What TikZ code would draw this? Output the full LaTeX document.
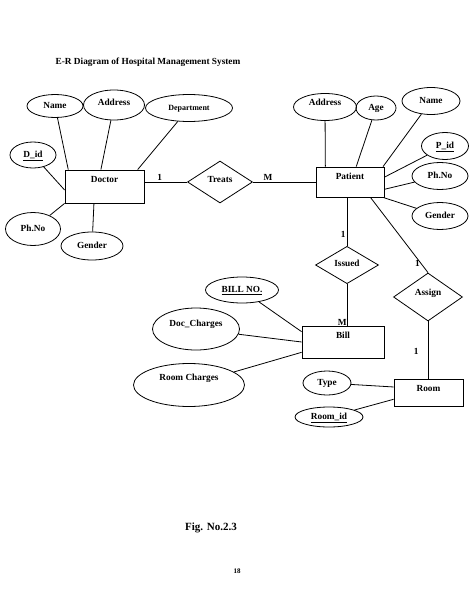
\documentclass[tikz,border=0pt]{standalone}
\usepackage{fontspec}
\setmainfont{Liberation Serif}
\usetikzlibrary{shapes.geometric}
\begin{document}
\begin{tikzpicture}[x=1pt,y=-1pt,line width=0.8pt,
    font=\fontsize{9.3}{10}\selectfont\bfseries,
    attr/.style 2 args={ellipse, draw, inner sep=0pt, minimum width=#1, minimum height=#2, text height=7pt, text depth=2pt},
    entity/.style 2 args={rectangle, draw, inner xsep=0pt, inner ysep=5pt, minimum width=#1, text height=7pt, text depth=#2},
    rel/.style 2 args={diamond, draw, inner sep=0pt, minimum width=#1, minimum height=#2, text height=7pt, text depth=2pt},
    card/.style={inner sep=1pt}]
    \useasboundingbox (0,0) rectangle (474,613);
    \node[font=\fontsize{9.3}{11}\selectfont\bfseries] (title) at (148,62) {E-R Diagram of Hospital Management System};

    \node[entity={79pt}{16pt}] (doctor) at (104.5,186.5) {Doctor};
    \node[attr={56pt}{23pt}] (dname) at (55,106) {Name};
    \node[attr={61pt}{30pt}, text depth=7pt] (daddr) at (114,105) {Address};
    \node[attr={87pt}{27pt}, font=\fontsize{8}{9}\selectfont\bfseries] (ddept) at (189,108) {Department};
    \node[attr={46pt}{26pt}] (did) at (33,155) {\underline{D\_id}};
    \node[attr={55pt}{33pt}] (dphone) at (33,229) {Ph.No};
    \node[attr={62pt}{28pt}] (dgender) at (92,246) {Gender};

    \node[rel={65pt}{42pt}, text depth=7pt] (treats) at (220,182) {Treats};

    \node[entity={68pt}{13pt}] (patient) at (350,182) {Patient};
    \node[attr={63pt}{27pt}, text depth=11pt] (paddr) at (325,107) {Address};
    \node[attr={40pt}{24pt}] (page) at (376,108) {Age};
    \node[attr={58pt}{27pt}] (pname) at (431,101) {Name};
    \node[attr={47pt}{27pt}] (pid) at (445,146) {\underline{P\_id}};
    \node[attr={56pt}{27pt}] (pphone) at (440,176) {Ph.No};
    \node[attr={56pt}{27pt}] (pgender) at (440,216) {Gender};

    \node[rel={63pt}{37pt}, text depth=5pt] (issued) at (347,265) {Issued};
    \node[rel={69pt}{48pt}, text depth=11pt] (assign) at (428,297) {Assign};

    \node[entity={82pt}{15pt}] (bill) at (343,342) {Bill};
    \node[attr={73pt}{26pt}] (billno) at (242,290) {\underline{BILL NO.}};
    \node[attr={87pt}{42pt}, text depth=13pt] (doccharge) at (196,329) {Doc\_Charges};
    \node[attr={111pt}{43pt}, text depth=17pt] (roomcharge) at (189,385) {Room Charges};

    \node[entity={69pt}{10pt}] (room) at (428.5,392.5) {Room};
    \node[attr={48pt}{24pt}] (rtype) at (327,383) {Type};
    \node[attr={68pt}{20pt}] (roomid) at (329,417) {\underline{Room\_id}};

    \node[font=\fontsize{11}{13}\selectfont\bfseries] (fig) at (211,528) {Fig. No.2.3};
    \node[font=\fontsize{7}{8}\selectfont\bfseries] (pageno) at (237,571) {18};

    \draw (dname) -- (doctor.155);
    \draw (daddr) -- (doctor.102);
    \draw (ddept) -- (doctor.27);
    \draw (did) -- (doctor.185);
    \draw (dphone) -- (doctor.south west);
    \draw (dgender) -- (doctor.238);
    \draw (doctor.east |- treats.west) -- node[above, pos=0.36, card] {1} (treats.west);
    \draw (treats.east) -- node[above, pos=0.24, card] {M} (patient.west);

    \draw (paddr) -- (patient.148);
    \draw (page) -- (patient.68);
    \draw (pname) -- (patient.25);
    \draw (pid) -- (patient.8);
    \draw (pphone) -- (patient.348);
    \draw (pgender) -- (patient.335);
    \draw (issued.north |- patient.south) -- node[left, pos=0.76, card] {1} (issued.north);
    \draw (patient.323) -- node[left, pos=0.88, card] {1} (assign.north);

    \draw (issued.south) -- (issued.south |- bill.north) node[anchor=south east, inner sep=0pt] {M};
    \draw (billno) -- (bill.166);
    \draw (doccharge) -- (bill.west);
    \draw (roomcharge) -- (bill.194);

    \draw (assign.south) -- node[left=8pt, pos=0.53, card] {1} (assign.south |- room.north);
    \draw (rtype) -- (room.171);
    \draw (roomid) -- (room.191);
\end{tikzpicture}
\end{document}
